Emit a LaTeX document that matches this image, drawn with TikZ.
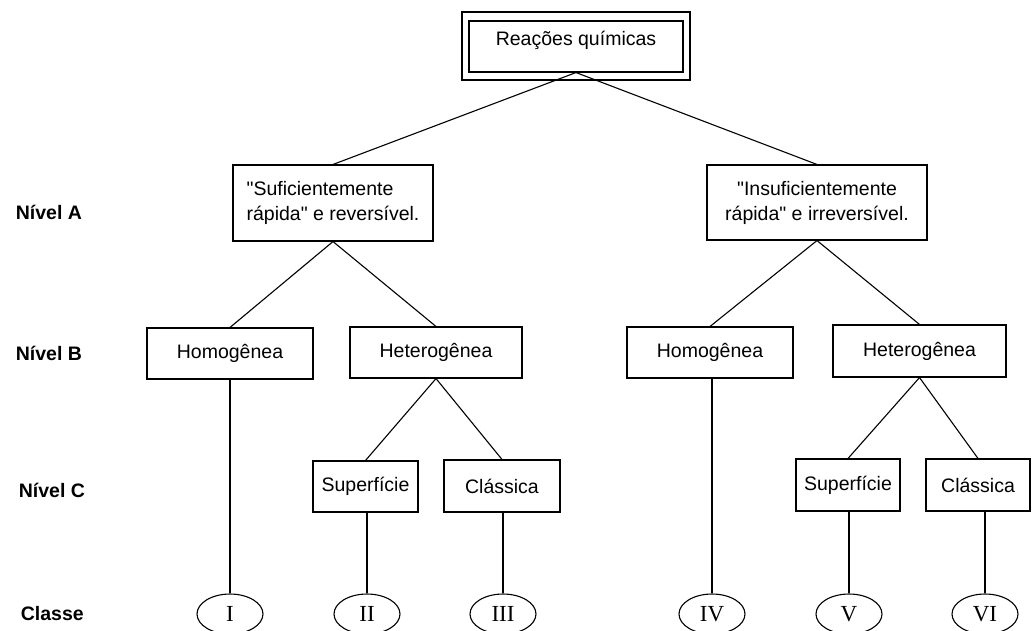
\documentclass[tikz,border=0pt]{standalone}
\usepackage{fontspec}
\setmainfont{Liberation Sans}[Ligatures=TeXOff]
\newfontfamily\romfont{Liberation Serif}
\usetikzlibrary{shapes.geometric}
\begin{document}
\begin{tikzpicture}[x=1pt,y=-1pt, line width=1.1pt,
  box/.style={draw, rectangle, inner xsep=0pt, inner ysep=0pt, font=\fontsize{19.5}{25}\selectfont},
  cls/.style={draw, ellipse, minimum width=66pt, minimum height=40pt, inner sep=0pt, font=\romfont\fontsize{23}{23}\selectfont},
  lvl/.style={anchor=west, font=\bfseries\fontsize{19.5}{24}\selectfont}]
\useasboundingbox (0,0) rectangle (1032,630);
\fill[white] (0,0) rectangle (1032,630);
% top
\node[box, minimum width=228pt, minimum height=68pt] (outer) at (576,46) {};
\node[box, minimum width=214pt, text height=24pt, text depth=27pt] (top) at (576,46.5) {Reações químicas};
% level A
\node[box, align=left, minimum width=200pt, minimum height=76pt] (A1) at (333,203) {"Suficientemente\\rápida" e reversível.};
\node[box, align=center, minimum width=220pt, minimum height=75pt] (A2) at (817,202.5) {"Insuficientemente\\rápida" e irreversível.};
% level B
\node[box, minimum width=166pt, minimum height=51pt] (B1) at (230,353.5) {Homogênea};
\node[box, minimum width=172pt, minimum height=51pt] (B2) at (436,352.5) {Heterogênea};
\node[box, minimum width=166pt, minimum height=51pt] (B3) at (710,352.5) {Homogênea};
\node[box, minimum width=173pt, minimum height=52pt] (B4) at (919.5,351) {Heterogênea};
% level C
\node[box, minimum width=105pt, minimum height=51pt] (C1) at (365.5,486.5) {Superfície};
\node[box, minimum width=116pt, minimum height=52pt] (C2) at (502,486) {Clássica};
\node[box, minimum width=104pt, minimum height=52pt] (C3) at (848,485) {Superfície};
\node[box, minimum width=104pt, minimum height=52pt] (C4) at (978,485) {Clássica};
% classes
\node[cls] (E1) at (230,614) {I};
\node[cls] (E2) at (367,614) {II};
\node[cls] (E3) at (503,614) {III};
\node[cls] (E4) at (712,614) {IV};
\node[cls] (E5) at (849,614) {V};
\node[cls] (E6) at (985,614) {VI};
% labels
\node[lvl] (LA) at (12,212) {Nível A};
\node[lvl] (LB) at (12,353) {Nível B};
\node[lvl] (LC) at (15,490) {Nível C};
\node[lvl] (LD) at (17,614) {Classe};
% connectors
\draw (top.south) -- (A1.north);
\draw (top.south) -- (A2.north);
\draw (A1.south) -- (B1.north);
\draw (A1.south) -- (B2.north);
\draw (A2.south) -- (B3.north);
\draw (A2.south) -- (B4.north);
\draw (B2.south) -- (C1.north);
\draw (B2.south) -- (C2.north);
\draw (B4.south) -- (C3.north);
\draw (B4.south) -- (C4.north);
\draw (B1.south) -- (E1.north);
\draw (E2.north |- C1.south) -- (E2.north);
\draw (E3.north |- C2.south) -- (E3.north);
\draw (E4.north |- B3.south) -- (E4.north);
\draw (E5.north |- C3.south) -- (E5.north);
\draw (E6.north |- C4.south) -- (E6.north);
\end{tikzpicture}
\end{document}
